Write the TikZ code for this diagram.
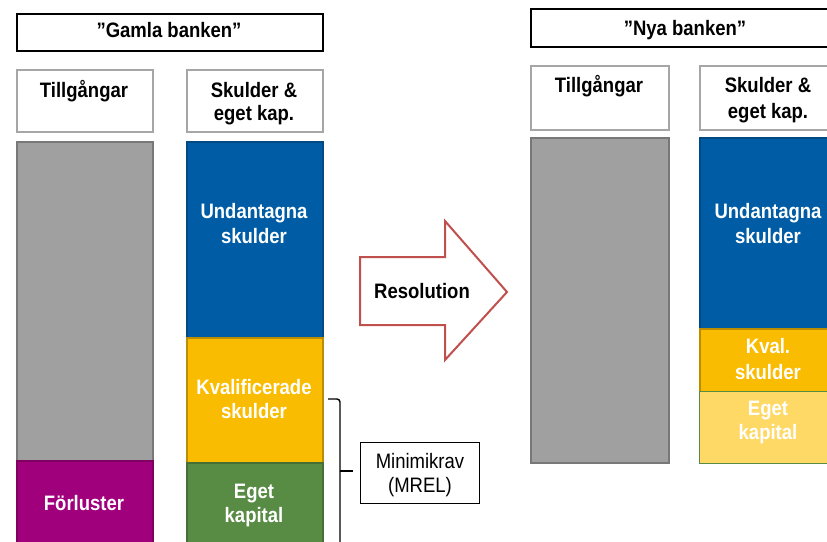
\documentclass[tikz,border=0pt]{standalone}
\usepackage{fontspec}
\setmainfont{Liberation Sans}
\definecolor{cblue}{HTML}{005DA5}
\definecolor{cyellow}{HTML}{FABC00}
\definecolor{cgreen}{HTML}{588B44}
\definecolor{cpurple}{HTML}{A0007B}
\definecolor{cgray}{HTML}{A0A0A0}
\definecolor{cltyellow}{HTML}{FFD966}
\definecolor{carrow}{HTML}{C0504D}
\newcommand{\tallt}[1]{\scalebox{1}[1.13]{#1}}
\tikzset{
  blk/.style={rectangle, inner sep=0pt, anchor=north west, line width=1.6pt},
  titlebox/.style={blk, draw=black, line width=2.4pt, fill=white},
  headbox/.style={blk, draw=black!35, line width=2.2pt, fill=white},
  txt/.style={inner sep=0pt, anchor=base, font=\fontsize{18.5}{22}\selectfont\bfseries},
  wtxt/.style={txt, text=white},
  ntxt/.style={inner sep=0pt, anchor=base, font=\fontsize{18.5}{22}\selectfont},
}
\begin{document}
\begin{tikzpicture}[x=1pt,y=-1pt]
\useasboundingbox (0,0) rectangle (827,541);
\clip (0,0) rectangle (827,541);
\fill[white] (0,0) rectangle (827,541);

% ---------- Gamla banken ----------
\node[titlebox, minimum width=306pt, minimum height=37pt] (gtitle) at (16,13) {};
\node[txt] (gtitlet) at (169,37) {\tallt{”Gamla banken”}};

\node[headbox, minimum width=136pt, minimum height=62pt] (gh1) at (16,69) {};
\node[txt] (gh1t) at (84,97) {\tallt{Tillgångar}};
\node[headbox, minimum width=136pt, minimum height=62pt] (gh2) at (186,69) {};
\node[txt] (gh2a) at (254,97) {\tallt{Skulder \&}};
\node[txt] (gh2b) at (254,120) {\tallt{eget kap.}};

\node[blk, fill=cgray, draw=cgray!75!black, minimum width=136pt, minimum height=319pt] (ggray) at (16,141) {};
\node[blk, fill=cpurple, draw=cpurple!80!black, minimum width=136pt, minimum height=100pt] (gloss) at (16,460) {};
\node[wtxt] (glosst) at (84,510) {\tallt{Förluster}};

\node[blk, fill=cblue, draw=cblue!80!black, minimum width=136pt, minimum height=196pt] (gblue) at (186,141) {};
\node[wtxt] (gbluea) at (254,218) {\tallt{Undantagna}};
\node[wtxt] (gblueb) at (254,243) {\tallt{skulder}};
\node[blk, fill=cyellow, draw=cyellow!75!black, minimum width=136pt, minimum height=125pt] (gyel) at (186,337) {};
\node[wtxt] (gyela) at (254,394) {\tallt{Kvalificerade}};
\node[wtxt] (gyelb) at (254,418) {\tallt{skulder}};
\node[blk, fill=cgreen, draw=cgreen!80!black, minimum width=136pt, minimum height=100pt] (ggreen) at (186,462) {};
\node[wtxt] (ggreena) at (254,498) {\tallt{Eget}};
\node[wtxt] (ggreenb) at (254,522) {\tallt{kapital}};

% bracket + MREL
\coordinate (bt) at (328,399);
\coordinate (bm) at (340,471);
\coordinate (btip) at (353,471);
\coordinate (bb) at (340,560);
\draw[line width=1.4pt, rounded corners=3pt] (bt) -| (bb);
\draw[line width=1.4pt] (bm) -- (btip);
\node[blk, draw=black, line width=1pt, fill=white, minimum width=119pt, minimum height=61pt] (mrel) at (360,442) {};
\node[ntxt] (mrela) at (420,468) {\tallt{Minimikrav}};
\node[ntxt] (mrelb) at (420,492) {\tallt{(MREL)}};

% ---------- Resolution arrow ----------
\draw[carrow, line width=2pt, fill=white, line join=miter]
  (360,257) -- (445,257) -- (445,221) -- (507,292) -- (445,360) -- (445,325) -- (360,325) -- cycle;
\node[txt] (res) at (422,298) {\tallt{Resolution}};

% ---------- Nya banken ----------
\node[titlebox, minimum width=310pt, minimum height=38pt] (ntitle) at (530,8) {};
\node[txt] (ntitlet) at (685,35) {\tallt{”Nya banken”}};

\node[headbox, minimum width=138pt, minimum height=64pt] (nh1) at (530,65) {};
\node[txt] (nh1t) at (599,92) {\tallt{Tillgångar}};
\node[headbox, minimum width=138pt, minimum height=64pt] (nh2) at (699,65) {};
\node[txt] (nh2a) at (768,92) {\tallt{Skulder \&}};
\node[txt] (nh2b) at (768,118) {\tallt{eget kap.}};

\node[blk, fill=cgray, draw=cgray!75!black, minimum width=138pt, minimum height=325pt] (ngray) at (530,137) {};

\node[blk, fill=cblue, draw=cblue!80!black, minimum width=138pt, minimum height=191pt] (nblue) at (699,137) {};
\node[wtxt] (nbluea) at (768,218) {\tallt{Undantagna}};
\node[wtxt] (nblueb) at (768,243) {\tallt{skulder}};
\node[blk, fill=cyellow, draw=cyellow!75!black, minimum width=138pt, minimum height=63pt] (nyel) at (699,328) {};
\node[wtxt] (nyela) at (768,353) {\tallt{Kval.}};
\node[wtxt] (nyelb) at (768,379) {\tallt{skulder}};
\node[blk, fill=cltyellow, draw=cgreen, line width=1.2pt, minimum width=138pt, minimum height=72pt] (nlt) at (699,391) {};
\node[wtxt] (nlta) at (768,415) {\tallt{Eget}};
\node[wtxt] (nltb) at (768,439) {\tallt{kapital}};
\end{tikzpicture}
\end{document}
